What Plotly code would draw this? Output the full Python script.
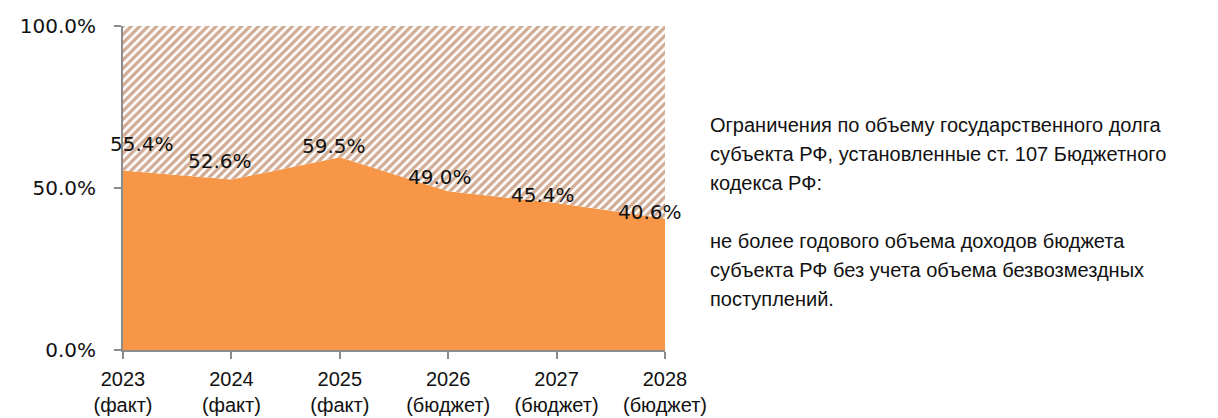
import plotly.graph_objects as go

# --- DATA ---
years = ["2023", "2024", "2025", "2026", "2027", "2028"]
status = ["(факт)", "(факт)", "(факт)", "(бюджет)", "(бюджет)", "(бюджет)"]
debt_share = [0.554, 0.526, 0.595, 0.490, 0.454, 0.406]
debt_limit = [1.0, 1.0, 1.0, 1.0, 1.0, 1.0]

note_lines = [
    "Ограничения по объему государственного долга",
    "субъекта РФ, установленные ст. 107 Бюджетного",
    "кодекса РФ:",
    "",
    "не более годового объема доходов бюджета",
    "субъекта РФ без учета объема безвозмездных",
    "поступлений.",
]

# label nudges (px) to sit where the original puts them
label_dx = [19, -11, -6, -8, -14, -15]
label_dy = [27, 19, 11, 14, 8, 6]

ORANGE = "#F79646"
AXIS_GREY = "#8c8c8c"
NOTE_FONT = dict(family="Liberation Sans, Arial", size=20, color="#111")

x_idx = list(range(len(years)))

fig = go.Figure()

fig.add_trace(go.Scatter(
    x=x_idx, y=debt_share, mode="lines", line=dict(width=0),
    fill="tozeroy", fillcolor=ORANGE, hoverinfo="skip", showlegend=False,
))
fig.add_trace(go.Scatter(
    x=x_idx, y=debt_limit, mode="lines", line=dict(width=0),
    fill="tonexty", fillcolor="white",
    fillpattern=dict(shape="/", fgcolor="#a35a2a", bgcolor="white", size=6, solidity=0.55),
    hoverinfo="skip", showlegend=False,
))

for i, v in enumerate(debt_share):
    fig.add_annotation(
        x=i, y=v, text=f"{v * 100:.1f}%", showarrow=False,
        xshift=label_dx[i], yshift=label_dy[i],
        font=dict(family="DejaVu Sans", size=20, color="#111"),
    )

# side note, one annotation per line so the spacing follows the original
for i, line in enumerate(note_lines):
    if not line:
        continue
    fig.add_annotation(
        xref="paper", yref="paper", x=1.079, y=0.694, yshift=-29 * i,
        xanchor="left", yanchor="middle", align="left", showarrow=False,
        text=line, font=NOTE_FONT,
    )

# page body adds an 8px offset, so margins are trimmed by that much
fig.update_layout(
    width=1218, height=418,
    margin=dict(l=115, r=561, t=18, b=76),
    paper_bgcolor="white", plot_bgcolor="white",
    showlegend=False,
    xaxis=dict(
        range=[0, 5], tickvals=x_idx,
        ticktext=[f"{y}<br>{s}" for y, s in zip(years, status)],
        showgrid=False, zeroline=False, automargin=False,
        showline=True, linecolor=AXIS_GREY, linewidth=2,
        ticks="outside", ticklen=7, tickcolor=AXIS_GREY, tickwidth=2,
        ticklabelstandoff=3,
        tickfont=dict(family="Liberation Sans, Arial", size=20, color="#111"),
    ),
    yaxis=dict(
        range=[0, 1], tickvals=[0, 0.5, 1], tickformat=".1%",
        showgrid=False, zeroline=False, automargin=False,
        showline=True, linecolor=AXIS_GREY, linewidth=2,
        ticks="outside", ticklen=7, tickcolor=AXIS_GREY, tickwidth=2,
        ticklabelstandoff=14,
        tickfont=dict(family="DejaVu Sans", size=20, color="#111"),
    ),
)

fig.write_html("out.html")
